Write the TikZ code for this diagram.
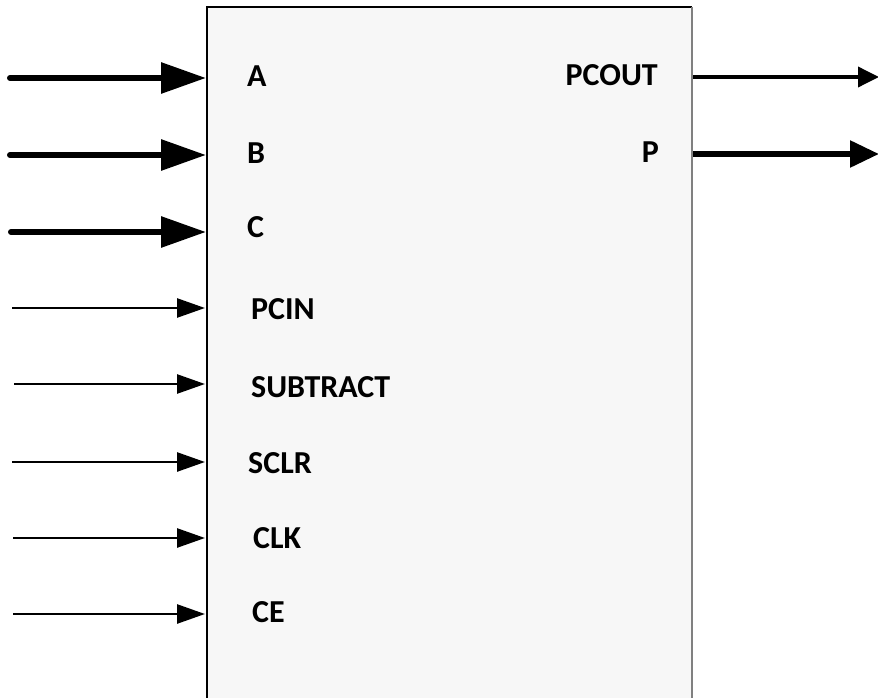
\documentclass[tikz,border=0pt]{standalone}
\usepackage{fontspec}
\setmainfont{Carlito}
\usetikzlibrary{arrows.meta}
\begin{document}
\begin{tikzpicture}[x=1pt,y=-1pt,
  lbl/.style={inner sep=0pt,font=\fontsize{32}{32}\selectfont\bfseries},
  thickarrow/.style={line width=6pt,line cap=round,-{Triangle[length=45pt,width=30pt]}},
  thinarrow/.style={line width=2.6pt,-{Triangle[length=28pt,width=19pt]}},
  pcoutarrow/.style={line width=3.6pt,-{Triangle[length=21pt,width=20pt]}},
  parrow/.style={line width=5.5pt,-{Triangle[length=29pt,width=26pt]}}]
\useasboundingbox (0,0) rectangle (878,698);
\fill[black!3] (207,7) rectangle (692,710);
\draw[line width=1.5pt,black] (207,710) -- (207,7) -- (692,7);
\draw[line width=2pt,black!50] (692,7) -- (692,710);
% inputs
\coordinate (sA) at (10,78);   \coordinate (eA) at (206,78);
\coordinate (sB) at (10,155);  \coordinate (eB) at (206,155);
\coordinate (sC) at (11,232);  \coordinate (eC) at (206,232);
\coordinate (sD) at (12,308);  \coordinate (eD) at (205,308);
\coordinate (sE) at (14,384);  \coordinate (eE) at (205,384);
\coordinate (sF) at (12,462);  \coordinate (eF) at (205,462);
\coordinate (sG) at (13,538);  \coordinate (eG) at (205,538);
\coordinate (sH) at (13,614);  \coordinate (eH) at (205,614);
\draw[thickarrow] (sA) -- (eA);
\draw[thickarrow] (sB) -- (eB);
\draw[thickarrow] (sC) -- (eC);
\draw[thinarrow] (sD) -- (eD);
\draw[thinarrow] (sE) -- (eE);
\draw[thinarrow] (sF) -- (eF);
\draw[thinarrow] (sG) -- (eG);
\draw[thinarrow] (sH) -- (eH);
% outputs
\coordinate (sO) at (693,77);  \coordinate (eO) at (879,77);
\coordinate (sP) at (693,154); \coordinate (eP) at (879,154);
\draw[pcoutarrow] (sO) -- (eO);
\draw[parrow] (sP) -- (eP);
% labels
\node[lbl,anchor=base west] (lA) at (247,86.5) {A};
\node[lbl,anchor=base west] (lB) at (247,163.5) {B};
\node[lbl,anchor=base west] (lC) at (247,237.5) {C};
\node[lbl,anchor=base west] (lD) at (251,319.5) {PCIN};
\node[lbl,anchor=base west] (lE) at (251,397.5) {SUBTRACT};
\node[lbl,anchor=base west] (lF) at (248,473.5) {SCLR};
\node[lbl,anchor=base west] (lG) at (253,548.5) {CLK};
\node[lbl,anchor=base west] (lH) at (252,622.5) {CE};
\node[lbl,anchor=base east] (lO) at (658,85.5) {PCOUT};
\node[lbl,anchor=base east] (lP) at (659,162.5) {P};
\end{tikzpicture}
\end{document}
